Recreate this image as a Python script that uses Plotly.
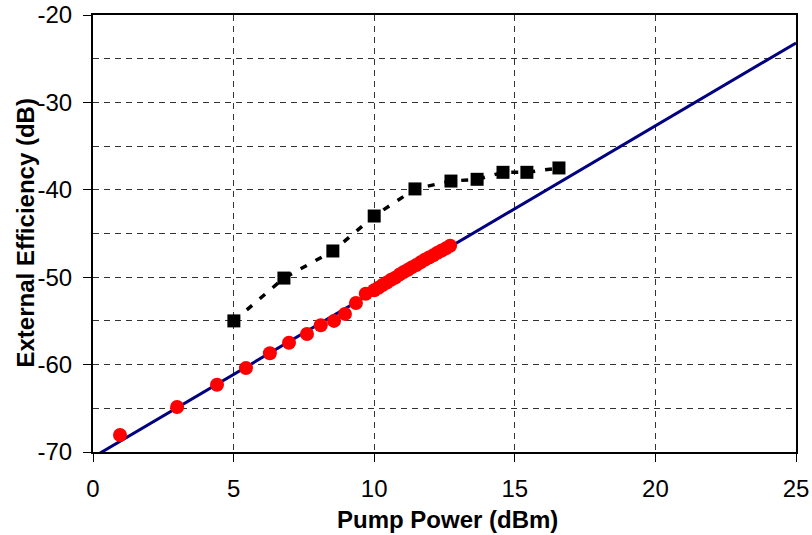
import plotly.graph_objects as go

# Fit line (blue)
fit_x = [0, 25]
fit_y = [-70.6, -23.2]

# Red circles (measured)
red_x = [0.96, 2.99, 4.41, 5.44, 6.29, 6.97, 7.61, 8.1, 8.57, 8.96, 9.35, 9.7,
         10.0, 10.15, 10.3, 10.45, 10.6, 10.75, 10.9, 11.05, 11.2, 11.35, 11.5,
         11.65, 11.8, 11.95, 12.1, 12.25, 12.4, 12.55, 12.7]
red_y = [-68.05, -64.85, -62.3, -60.4, -58.7, -57.5, -56.5, -55.5, -55.0, -54.2, -52.95, -51.9,
         -51.5, -51.2, -50.9, -50.6, -50.3, -50.05, -49.7, -49.4, -49.15, -48.85, -48.6,
         -48.3, -48.0, -47.75, -47.5, -47.2, -46.95, -46.7, -46.4]

# Black squares (dashed)
sq_x = [5.01, 6.79, 8.53, 10.0, 11.45, 12.73, 13.66, 14.58, 15.43, 16.57]
sq_y = [-55.0, -50.1, -47.0, -43.0, -39.9, -39.0, -38.8, -38.0, -38.0, -37.5]

# Tick labels
x_ticks = [0, 5, 10, 15, 20, 25]
x_labels = ["0", "5", "10", "15", "20", "25"]
y_ticks = [-70, -60, -50, -40, -30, -20]
y_labels = ["-70", "-60", "-50", "-40", "-30", "-20"]

fig = go.Figure()
fig.add_trace(go.Scatter(x=fit_x, y=fit_y, mode="lines",
                         line=dict(color="#000080", width=3), showlegend=False))
fig.add_trace(go.Scatter(x=red_x, y=red_y, mode="markers",
                         marker=dict(color="#ff0000", size=14, symbol="circle"),
                         showlegend=False))
fig.add_trace(go.Scatter(x=sq_x, y=sq_y, mode="lines+markers",
                         line=dict(color="black", width=3.5, dash="7px,10px"),
                         marker=dict(color="black", size=13, symbol="square"),
                         showlegend=False))

gridc = "#333333"
fnt = "Liberation Sans, Arial, sans-serif"
fig.update_layout(
    width=812, height=535,
    margin=dict(l=93, r=16, t=15, b=83),
    paper_bgcolor="white", plot_bgcolor="white",
    font=dict(family=fnt, size=24, color="black"),
    xaxis=dict(range=[0, 25], tickvals=x_ticks, ticktext=x_labels, automargin=False,
               showline=True, linecolor="black", linewidth=2, mirror=True,
               ticks="outside", ticklen=8, tickcolor="black", tickwidth=1,
               ticklabelstandoff=6,
               showgrid=True, gridcolor=gridc, griddash="6px,5px", gridwidth=1,
               zeroline=False),
    yaxis=dict(range=[-70, -20], tickvals=y_ticks, ticktext=y_labels, automargin=False,
               showline=True, linecolor="black", linewidth=2, mirror=True,
               ticks="outside", ticklen=8, tickcolor="black", tickwidth=1,
               ticklabelstandoff=6,
               showgrid=True, gridcolor=gridc, griddash="6px,5px", gridwidth=1,
               minor=dict(dtick=5, tick0=-70, showgrid=True, gridcolor=gridc,
                          griddash="6px,5px", gridwidth=1, ticks=""),
               zeroline=False),
    annotations=[
        dict(text="<b>Pump Power (dBm)</b>", xref="paper", yref="paper",
             x=0.5, y=0, xshift=3, yshift=-67, xanchor="center", yanchor="middle",
             showarrow=False, font=dict(family=fnt, size=24)),
        dict(text="<b>External Efficiency (dB)</b>", xref="paper", yref="paper",
             x=0, xshift=-68, y=0.5, xanchor="center", yanchor="middle", textangle=-90,
             showarrow=False, font=dict(family=fnt, size=24)),
    ],
)

fig.write_html("out.html", config={"displayModeBar": False},
               post_script="document.body.style.margin='0';document.body.style.overflow='hidden';")
